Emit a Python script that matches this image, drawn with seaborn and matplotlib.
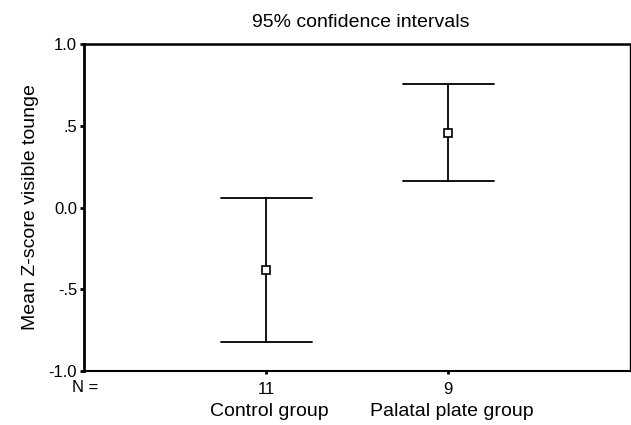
import matplotlib
matplotlib.use("Agg")
import matplotlib.pyplot as plt
import matplotlib.transforms as mtransforms
import seaborn as sns
import pandas as pd

# Data
groups = ["Control group", "Palatal plate group"]
counts = ["11", "9"]
means = [-0.385, 0.455]
lower = [-0.82, 0.165]
upper = [0.06, 0.755]
yticks = [-1.0, -0.5, 0.0, 0.5, 1.0]
yticklabels = ["-1.0", "-.5", "0.0", ".5", "1.0"]

sns.set_theme(style="white")
plt.rcParams["font.family"] = ["Liberation Sans", "DejaVu Sans"]

# long table: lower / mean / upper for each group; median -> mean, 100% interval -> CI
rows = []
for g, lo, m, hi in zip(groups, lower, means, upper):
    for v in (lo, m, hi):
        rows.append({"group": g, "value": v})
df = pd.DataFrame(rows)

fig = plt.figure(figsize=(6.31, 4.25), dpi=100)
ax = fig.add_axes([84 / 631, 1 - 371 / 425, 546 / 631, 327 / 425])

sns.pointplot(data=df, x="group", y="value", order=groups,
              estimator="median", errorbar=("pi", 100), capsize=0.5,
              linestyle="none", marker="s", color="black", markersize=5.5,
              markerfacecolor="white", markeredgewidth=1.2,
              err_kws={"linewidth": 1.3}, ax=ax, zorder=3)
for ln in ax.lines:
    if ln.get_marker() == "s":
        ln.set_zorder(5)

ax.set_xlim(-1, 2)
ax.set_ylim(-1.0, 1.0)
ax.set_yticks(yticks)
ax.set_yticklabels(yticklabels, fontsize=12)
ax.set_xticks([0, 1])
ax.set_xticklabels(counts, fontsize=12)
ax.tick_params(axis="y", direction="out", length=3, width=2, pad=2, left=True, colors="black")
ax.tick_params(axis="x", direction="out", length=2, width=2, pad=6, bottom=True, colors="black")
ax.set_xlabel("")
ax.set_ylabel("Mean Z-score visible tounge", fontsize=14, color="black", labelpad=7)
ax.set_title("95% confidence intervals", fontsize=14, color="black", pad=12,
             x=0.5 + 4 / 546)

for side, lw in (("left", 2.0), ("bottom", 1.5), ("top", 1.8), ("right", 1.0)):
    ax.spines[side].set_visible(True)
    ax.spines[side].set_color("black")
    ax.spines[side].set_linewidth(lw)

trans = mtransforms.blended_transform_factory(ax.transData, fig.transFigure)
for i, g in enumerate(groups):
    ax.text(i + 0.02, 1 - 412 / 425, g, transform=trans, ha="center", va="center",
            fontsize=14, color="black")
ax.text(72 / 631, 1 - 387 / 425, "N =", transform=fig.transFigure, ha="left",
        va="center", fontsize=12, color="black")

fig.savefig("out.png", dpi=100)
